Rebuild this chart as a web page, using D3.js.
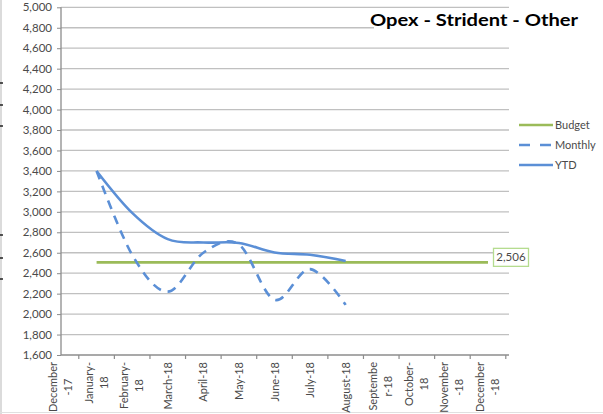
<!DOCTYPE html>
<html>
<head>
<meta charset="utf-8">
<script src="https://cdn.jsdelivr.net/npm/d3@7"></script>
<style>
  body { margin: 0; background: #fff; }
  svg { display: block; font-family: Lato, "Liberation Sans", sans-serif; }
</style>
</head>
<body>
<svg id="chart" width="603" height="414"></svg>
<script>
// data
var categories = ["December-17", "January-18", "February-18", "March-18", "April-18", "May-18",
  "June-18", "July-18", "August-18", "September-18", "October-18", "November-18", "December-18"];
var tickLines = [["December", "-17"], ["January-", "18"], ["February-", "18"], ["March-18"],
  ["April-18"], ["May-18"], ["June-18"], ["July-18"], ["August-18"], ["Septembe", "r-18"],
  ["October-", "18"], ["November", "-18"], ["December", "-18"]];
var monthlyMonths = ["January-18", "February-18", "March-18", "April-18", "May-18", "June-18", "July-18", "August-18"];
var monthly = [3400, 2580, 2220, 2600, 2680, 2140, 2440, 2090];
var ytd = [3400, 2990, 2733, 2700, 2696, 2603, 2580, 2519];
var budgetMonths = categories.slice(1);
var budget = [2506, 2506, 2506, 2506, 2506, 2506, 2506, 2506, 2506, 2506, 2506, 2506];
var yTicks = [1600, 1800, 2000, 2200, 2400, 2600, 2800, 3000, 3200, 3400, 3600, 3800, 4000, 4200, 4400, 4600, 4800, 5000];
var seriesNames = ["Budget", "Monthly", "YTD"];

var green = "#9bbb59", blue = "#5b8fd6", grid = "#c0c0c0", axisCol = "#8c8c8c", txt = "#4a4a4a";

var svg = d3.select("#chart");
var pLeft = 61, pRight = 509, pTop = 7.3, pBottom = 355;

var x = d3.scalePoint().domain(categories).range([pLeft, 488]);
var step = x.step();
var y = d3.scaleLinear().domain([1600, 5000]).range([pBottom, pTop]);

// frame artifacts at the edges
svg.append("line").attr("x1", 1).attr("x2", 1).attr("y1", 0).attr("y2", 414)
  .attr("stroke", "#cfcfcf").attr("stroke-width", 1.5);
svg.append("line").attr("x1", 0).attr("x2", 603).attr("y1", 412.5).attr("y2", 412.5)
  .attr("stroke", "#e0e0e0").attr("stroke-width", 1);
svg.selectAll(".nick").data([83, 105, 126, 235, 258, 279]).enter().append("line")
  .attr("x1", 0).attr("x2", 3).attr("y1", d => d).attr("y2", d => d)
  .attr("stroke", "#000").attr("stroke-width", 1.3);

// gridlines
svg.append("g").selectAll("line").data(yTicks.slice(1)).enter().append("line")
  .attr("x1", pLeft).attr("x2", pRight)
  .attr("y1", d => y(d)).attr("y2", d => y(d))
  .attr("stroke", grid).attr("stroke-width", 1.3);

// y axis
var yAxis = svg.append("g").attr("transform", "translate(" + pLeft + ",0)")
  .call(d3.axisLeft(y).tickValues(yTicks).tickSize(4).tickPadding(5).tickFormat(d3.format(",")));
yAxis.select(".domain").remove();
yAxis.selectAll(".tick line").attr("stroke", axisCol);
yAxis.selectAll("text").attr("fill", txt).style("font-size", "11.5px").style("font-family", "Lato");
svg.append("line").attr("x1", pLeft).attr("x2", pLeft).attr("y1", pTop).attr("y2", pBottom)
  .attr("stroke", axisCol).attr("stroke-width", 1.3);

// x axis
svg.append("line").attr("x1", pLeft).attr("x2", pRight).attr("y1", pBottom).attr("y2", pBottom)
  .attr("stroke", axisCol).attr("stroke-width", 1.3);
svg.append("g").selectAll("line").data(categories).enter().append("line")
  .attr("x1", d => x(d) + step / 2).attr("x2", d => x(d) + step / 2)
  .attr("y1", pBottom).attr("y2", pBottom + 4)
  .attr("stroke", axisCol).attr("stroke-width", 1.2);

var xl = svg.append("g").selectAll("g").data(categories).enter().append("g")
  .attr("transform", d => "translate(" + x(d) + ",362) rotate(-90)");
xl.each(function (d, i) {
  var g = d3.select(this);
  var lines = tickLines[i];
  var ts = lines.map(function (s, j) {
    return g.append("text").text(s).attr("fill", txt).style("font-size", "11px")
      .attr("text-anchor", "middle")
      .attr("y", lines.length === 1 ? 4 : (j === 0 ? -4 : 11));
  });
  var w = d3.max(ts, t => t.node().getComputedTextLength());
  ts.forEach(t => t.attr("x", -w / 2));
});

// lines
var line = d3.line().curve(d3.curveCardinal.tension(0));
svg.append("path")
  .attr("d", line(budgetMonths.map((m, i) => [x(m), y(budget[i])])))
  .attr("fill", "none").attr("stroke", green).attr("stroke-width", 2.6);
svg.append("path")
  .attr("d", line(monthlyMonths.map((m, i) => [x(m), y(monthly[i])])))
  .attr("fill", "none").attr("stroke", blue).attr("stroke-width", 2.6)
  .attr("stroke-dasharray", "9,7");
svg.append("path")
  .attr("d", line(monthlyMonths.map((m, i) => [x(m), y(ytd[i])])))
  .attr("fill", "none").attr("stroke", blue).attr("stroke-width", 2.6);

// budget data label
var lastB = budget[budget.length - 1];
svg.append("rect").attr("x", 493.5).attr("y", y(lastB) - 14).attr("width", 35).attr("height", 18)
  .attr("fill", "#fff").attr("stroke", "#b5dc8f").attr("stroke-width", 1.3);
svg.append("text").attr("x", 511).attr("y", y(lastB) - 1).attr("text-anchor", "middle")
  .attr("fill", txt).style("font-size", "11.5px").text(d3.format(",")(lastB));

// title
svg.append("rect").attr("x", 374).attr("y", 10).attr("width", 213).attr("height", 35).attr("fill", "#fff");
svg.append("text").attr("x", 370).attr("y", 26)
  .attr("textLength", 208).attr("lengthAdjust", "spacingAndGlyphs")
  .attr("fill", "#000").style("font-size", "17px").style("font-weight", "bold")
  .text("Opex - Strident - Other");

// legend
var lg = svg.append("g").selectAll("g").data(seriesNames).enter().append("g")
  .attr("transform", (d, i) => "translate(519," + (125 + i * 20) + ")");
lg.append("line").attr("x1", 0).attr("x2", 34).attr("y1", 0).attr("y2", 0)
  .attr("stroke", (d, i) => i === 0 ? green : blue).attr("stroke-width", 2.6)
  .attr("stroke-dasharray", (d, i) => i === 1 ? "11,10" : null);
lg.append("text").attr("x", 36).attr("y", 4).attr("fill", txt).style("font-size", "11px").text(d => d);
</script>
</body>
</html>
